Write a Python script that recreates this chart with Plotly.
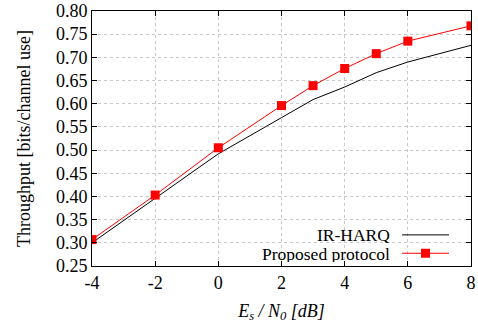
import plotly.graph_objects as go

snr_db = [-4, -2, 0, 2, 3, 4, 5, 6, 8]
ir_harq = [0.300, 0.397, 0.492, 0.570, 0.609, 0.636, 0.667, 0.690, 0.726]
proposed = [0.307, 0.403, 0.505, 0.596, 0.639, 0.676, 0.708, 0.735, 0.768]
x_ticks = [-4, -2, 0, 2, 4, 6, 8]
y_ticks = [0.25, 0.30, 0.35, 0.40, 0.45, 0.50, 0.55, 0.60, 0.65, 0.70, 0.75, 0.80]
legend_names = ["IR-HARQ", "Proposed protocol"]

FONT = "Liberation Serif"

fig = go.Figure()
fig.add_trace(go.Scatter(x=snr_db, y=ir_harq, mode="lines",
                         line=dict(color="black", width=1), showlegend=False))
fig.add_trace(go.Scatter(x=snr_db, y=proposed, mode="lines+markers",
                         line=dict(color="red", width=1),
                         marker=dict(symbol="square", size=9, color="red"),
                         showlegend=False))

axis_common = dict(showline=True, linecolor="black", linewidth=1, mirror="ticks",
                   ticks="inside", ticklen=5, tickcolor="black", automargin=False,
                   showgrid=True, gridcolor="#c8c8c8", griddash="dot", gridwidth=1,
                   zeroline=False, tickfont=dict(family=FONT, size=18, color="black"))

fig.update_xaxes(range=[-4, 8], tickvals=x_ticks, ticktext=[str(v) for v in x_ticks],
                 title=dict(text="<i>E<sub>s</sub> / N<sub>0</sub> [dB]</i>",
                            font=dict(family=FONT, size=18, color="black"), standoff=12),
                 **axis_common)
fig.update_yaxes(range=[0.25, 0.80], tickvals=y_ticks, ticktext=[f"{v:.2f}" for v in y_ticks],
                 title=dict(text="Throughput [bits/channel use]",
                            font=dict(family=FONT, size=18, color="black"), standoff=20),
                 **axis_common)

# legend (text right-aligned, sample on the right, as in the reference)
leg_y = [0.122, 0.050]
for name, yy in zip(legend_names, leg_y):
    fig.add_annotation(xref="paper", yref="paper", x=0.788, y=yy, text=name,
                       showarrow=False, xanchor="right", yanchor="middle",
                       height=17, valign="middle", borderpad=0,
                       font=dict(family=FONT, size=17.5, color="black"))
fig.add_shape(type="line", xref="paper", yref="paper", x0=0.818, x1=0.942,
              y0=leg_y[0], y1=leg_y[0], line=dict(color="black", width=1))
fig.add_shape(type="line", xref="paper", yref="paper", x0=0.818, x1=0.942,
              y0=leg_y[1], y1=leg_y[1], line=dict(color="red", width=1))
half_w = 4.5 / 379
half_h = 4.5 / 255
fig.add_shape(type="rect", xref="paper", yref="paper",
              x0=0.88 - half_w, x1=0.88 + half_w,
              y0=leg_y[1] - half_h, y1=leg_y[1] + half_h,
              line=dict(width=0), fillcolor="red")

fig.update_layout(width=478, height=326, margin=dict(l=92, r=7, t=11, b=60),
                  plot_bgcolor="white", paper_bgcolor="white",
                  font=dict(family=FONT, color="black"))

fig.write_html("out.html")
